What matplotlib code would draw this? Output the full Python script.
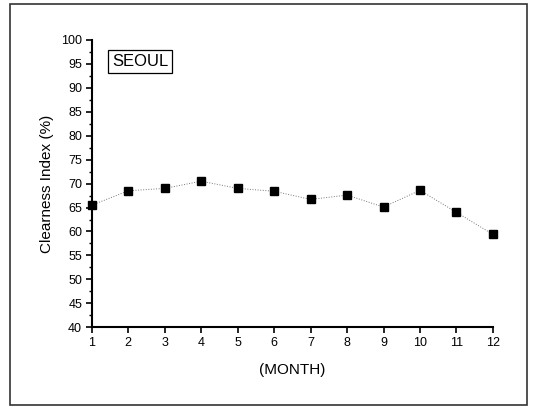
import numpy as np
import matplotlib.pyplot as plt
from matplotlib.patches import Rectangle
from matplotlib.ticker import MultipleLocator

plt.rcParams['font.family'] = ['Liberation Sans', 'DejaVu Sans']

# Datos mensuales (índice de claridad, %)
months = [1, 2, 3, 4, 5, 6, 7, 8, 9, 10, 11, 12]
clearness = [65.5, 68.5, 69.0, 70.5, 69.0, 68.4, 66.7, 67.6, 65.1, 68.6, 64.0, 59.4]
station = 'SEOUL'

fig = plt.figure(figsize=(5.34, 4.08), dpi=100)
ax = fig.add_axes([0.172, 0.198, 0.751, 0.704])

# Marco exterior de la figura
fig.patches.append(Rectangle((10 / 534, 3 / 408), 517 / 534, 401 / 408,
                             transform=fig.transFigure, fill=False,
                             edgecolor='#333333', linewidth=1.2))

ax.plot(months, clearness, linestyle=':', color='#777777', linewidth=0.7, zorder=2)
ax.plot(months, clearness, linestyle='none', marker='s', markersize=5.5,
        color='black', zorder=3, clip_on=False)

ax.set_xlim(1, 12)
ax.set_ylim(40, 100)
ax.set_xticks(months)
ax.yaxis.set_major_locator(MultipleLocator(5))
ax.yaxis.set_minor_locator(MultipleLocator(2.5))

for side in ['top', 'right']:
    ax.spines[side].set_visible(False)
for side in ['left', 'bottom']:
    ax.spines[side].set_linewidth(1.5)

ax.tick_params(axis='both', which='major', direction='out', length=4, width=1.2,
               labelsize=9, pad=3)
ax.tick_params(axis='y', which='minor', direction='out', length=2.5, width=1)

ax.set_xlabel('(MONTH)', fontsize=11, labelpad=10)
ax.set_ylabel('Clearness Index (%)', fontsize=11, labelpad=5)

ax.text(0.05, 0.952, station, transform=ax.transAxes, fontsize=12,
        ha='left', va='top',
        bbox=dict(boxstyle='square,pad=0.25', facecolor='white',
                  edgecolor='black', linewidth=0.9))

plt.savefig('out.png', dpi=100)
